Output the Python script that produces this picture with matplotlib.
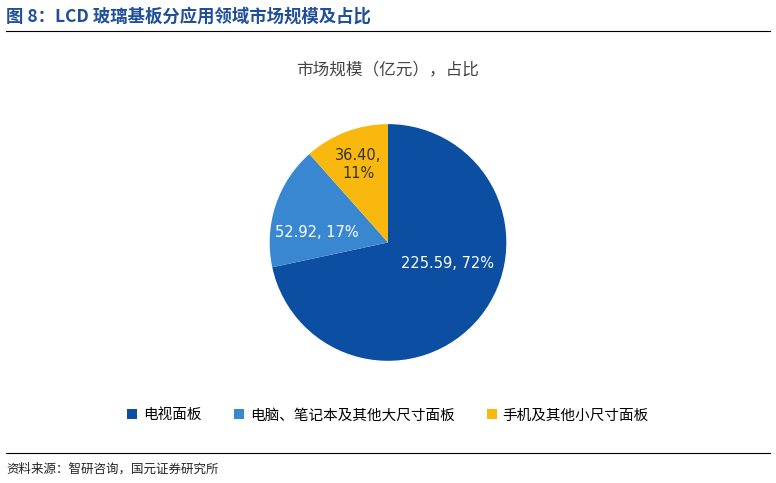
import matplotlib.pyplot as plt

plt.rcParams['font.family'] = ['Noto Sans CJK SC', 'DejaVu Sans']

labels = ["电视面板", "电脑、笔记本及其他大尺寸面板", "手机及其他小尺寸面板"]
values = [225.59, 52.92, 36.40]
pcts = [72, 17, 11]
colors = ["#0B4EA2", "#3A87D1", "#F9B80D"]

fig = plt.figure(figsize=(7.76, 4.83), dpi=100)

# 标题与分割线
fig.text(0.008, 0.965, "图 8：LCD 玻璃基板分应用领域市场规模及占比", color="#1F4E9A",
         fontsize=12.5, fontweight="bold", va="center")
fig.add_artist(plt.Line2D([0.008, 0.992], [0.936, 0.936], color="black", lw=0.8))
fig.add_artist(plt.Line2D([0.008, 0.992], [0.062, 0.062], color="black", lw=0.8))
fig.text(0.008, 0.028, "资料来源：智研咨询，国元证券研究所", fontsize=9, va="center", color="#222")

ax = fig.add_axes([0.25, 0.253, 0.5, 0.49])
wedges, _ = ax.pie(values, colors=colors, startangle=90, counterclock=False,
                   radius=1.0)
ax.set_xlim(-1, 1)
ax.set_ylim(-1, 1)
ax.set_aspect("equal")

# 数据标签
ax.text(0.50, -0.18, f"{values[0]:.2f}, {pcts[0]}%", color="white", fontsize=10.5,
        ha="center", va="center", family="DejaVu Sans")
ax.text(-0.60, 0.08, f"{values[1]:.2f}, {pcts[1]}%", color="white", fontsize=10.5,
        ha="center", va="center", family="DejaVu Sans")
ax.text(-0.25, 0.66, f"{values[2]:.2f},\n{pcts[2]}%", color="#333333", fontsize=10.5,
        ha="center", va="center", family="DejaVu Sans", linespacing=1.3)

fig.text(0.5, 0.855, "市场规模（亿元），占比", ha="center", va="center",
         fontsize=12, color="#444444")

fig.legend(wedges, labels, loc="center", bbox_to_anchor=(0.5, 0.14), ncol=3,
           frameon=False, fontsize=10.5, handlelength=0.7, handleheight=0.7,
           columnspacing=2.2, handletextpad=0.4)

fig.savefig("out.png", dpi=100)
